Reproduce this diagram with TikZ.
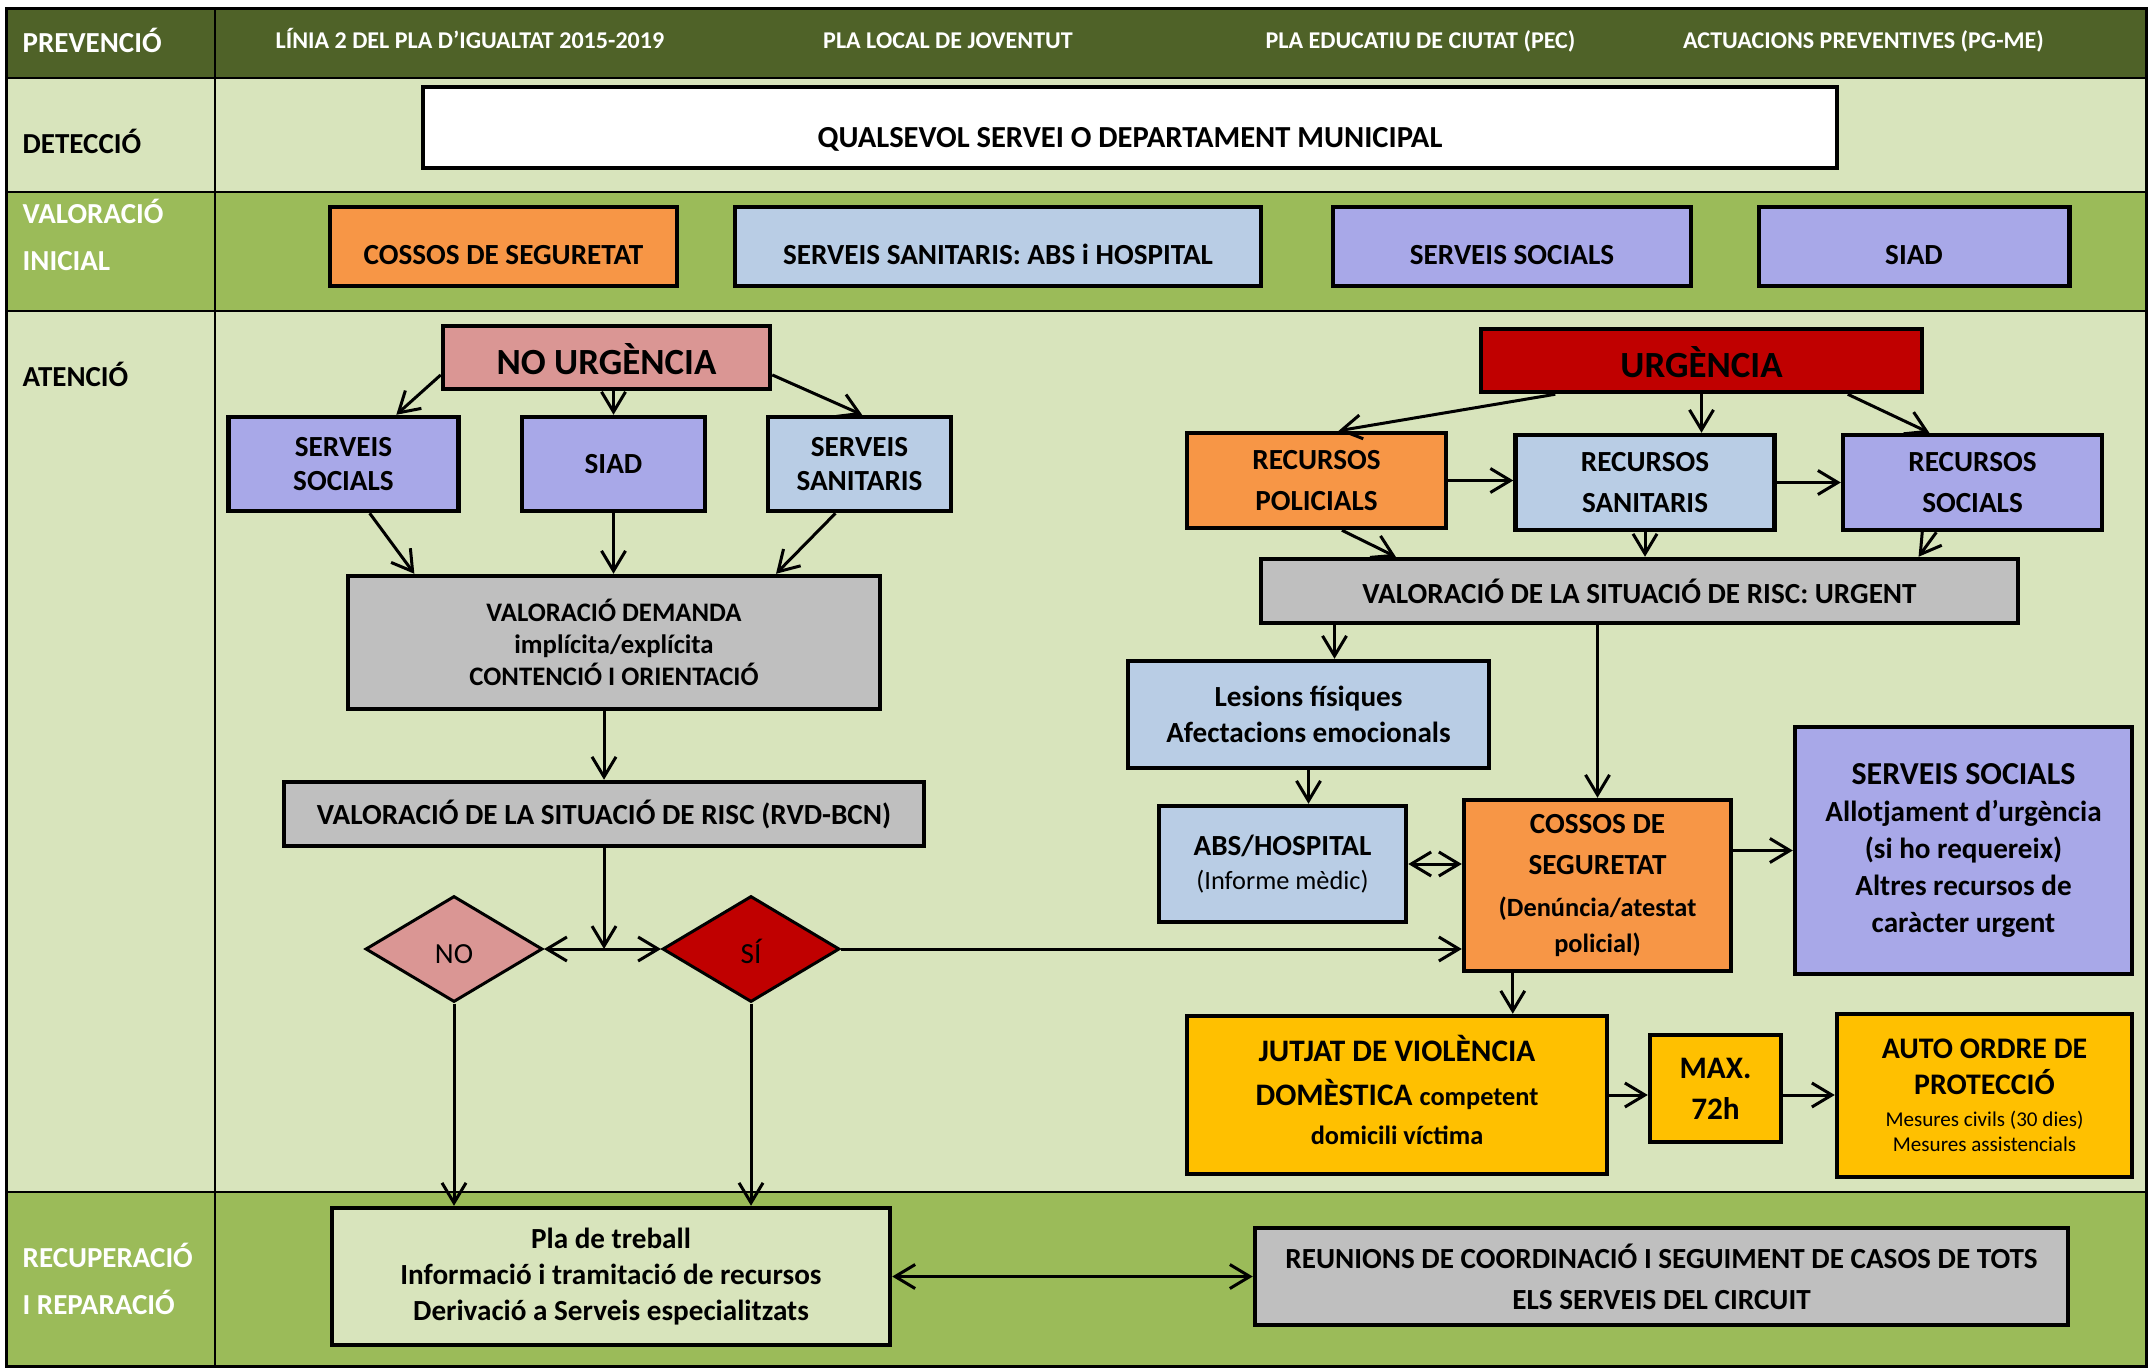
\documentclass[tikz,border=0pt]{standalone}
\usepackage{fontspec}
\setmainfont{Carlito}
\usetikzlibrary{positioning, shapes.geometric, arrows.meta}

\definecolor{hdrgreen}{RGB}{79,98,40}
\definecolor{palegreen}{RGB}{216,228,188}
\definecolor{midgreen}{RGB}{155,187,89}
\definecolor{orangebox}{RGB}{247,150,70}
\definecolor{bluebox}{RGB}{185,205,229}
\definecolor{violetbox}{RGB}{168,168,232}
\definecolor{pinkbox}{RGB}{218,150,148}
\definecolor{redbox}{RGB}{192,0,0}
\definecolor{greybox}{RGB}{191,191,191}
\definecolor{yellowbox}{RGB}{255,192,0}

\tikzset{
  lanetext/.style={inner sep=0pt, anchor=base west, font=\bfseries\fontsize{8.25}{13.3}\selectfont},
  headtext/.style={inner sep=0pt, anchor=base, text=white, font=\bfseries\fontsize{6.85}{8}\selectfont},
  boxsize/.style 2 args={minimum width=#1mm, minimum height=#2mm},
  lowtext/.style={text height=#1, text depth=0pt},
  box/.style={draw, line width=0.45mm, inner sep=0.5mm, align=center, font=\bfseries\fontsize{8.3}{10}\selectfont},
  decision/.style={diamond, draw, line width=0.3mm, inner sep=0pt, minimum width=17.7mm, minimum height=10.6mm, lowtext=2.9mm, font=\fontsize{8.3}{10}\selectfont},
  arr/.style={-{Straight Barb[length=2mm,width=2.4mm]}, line width=0.3mm},
  biarr/.style={{Straight Barb[length=2mm,width=2.4mm]}-{Straight Barb[length=2mm,width=2.4mm]}, line width=0.3mm}
}

\begin{document}
\begin{tikzpicture}[x=1mm, y=-1mm]
\useasboundingbox (0,0) rectangle (214.9,136.9);

% lanes
\fill[hdrgreen]  (0.6,0.9)   rectangle (214.6,7.8);
\fill[palegreen] (0.6,7.8)   rectangle (214.6,19.2);
\fill[midgreen]  (0.6,19.2)  rectangle (214.6,31.1);
\fill[palegreen] (0.6,31.1)  rectangle (214.6,119.2);
\fill[midgreen]  (0.6,119.2) rectangle (214.6,136.6);
\foreach \y in {7.8,19.2,31.1,119.2}
  \draw[line width=0.25mm] (0.6,\y) -- (214.6,\y);
\draw[line width=0.25mm] (21.5,0.9) -- (21.5,136.6);
\draw[line width=0.3mm] (0.6,0.9) rectangle (214.6,136.6);

\node[lanetext, text=white] (prev) at (2.2,5.23) {PREVENCIÓ};
\node[lanetext] (det) at (2.2,15.4) {DETECCIÓ};
\node[lanetext, text=white, anchor=west, align=left] (valini) at (2.2,23.5) {VALORACIÓ\\INICIAL};
\node[lanetext] (aten) at (2.2,38.6) {ATENCIÓ};
\node[lanetext, text=white, anchor=west, align=left] (recup) at (2.2,127.9) {RECUPERACIÓ\\I REPARACIÓ};

\node[headtext] (linia)  at (47.0,4.83)   {LÍNIA 2 DEL PLA D’IGUALTAT 2015-2019};
\node[headtext] (joves)  at (94.8,4.83)   {PLA LOCAL DE JOVENTUT};
\node[headtext] (pec)    at (142.05,4.83) {PLA EDUCATIU DE CIUTAT (PEC)};
\node[headtext] (pgme)   at (186.35,4.83) {ACTUACIONS PREVENTIVES (PG-ME)};

\node[box, fill=white, boxsize={141.4}{8.1}, lowtext=4.1mm, font=\bfseries\fontsize{8.7}{10}\selectfont] (qual) at (113.0,12.75) {QUALSEVOL SERVEI O DEPARTAMENT MUNICIPAL};

\begin{scope}[every node/.style={box, lowtext=3.5mm}]
\node[fill=orangebox, boxsize={34.7}{7.9}]  (cosini)  at (50.35,24.65) {COSSOS DE SEGURETAT};
\node[fill=bluebox,   boxsize={52.6}{7.9}]  (sanini)  at (99.8,24.65)  {SERVEIS SANITARIS: ABS i HOSPITAL};
\node[fill=violetbox, boxsize={35.8}{7.9}]  (socini)  at (151.2,24.65) {SERVEIS SOCIALS};
\node[fill=violetbox, boxsize={31.05}{7.9}] (siadini) at (191.4,24.65) {SIAD};
\end{scope}

% no urgencia
\node[box, fill=pinkbox, boxsize={32.7}{6.3}, lowtext=3.3mm, font=\bfseries\fontsize{10.5}{12}\selectfont] (nourg) at (60.65,35.75) {NO URGÈNCIA};
\node[box, fill=violetbox, boxsize={23.0}{9.4}, font=\bfseries\fontsize{8.3}{9.7}\selectfont] (ssoc) at (34.35,46.4) {SERVEIS\\SOCIALS};
\node[box, fill=violetbox, boxsize={18.3}{9.4}] (siad) at (61.35,46.4) {SIAD};
\node[box, fill=bluebox, boxsize={18.3}{9.4}, font=\bfseries\fontsize{8.3}{9.7}\selectfont] (ssan) at (85.95,46.4) {SERVEIS\\SANITARIS};
\node[box, fill=greybox, boxsize={53.2}{13.3}, font=\bfseries\fontsize{7.6}{9.1}\selectfont] (valdem) at (61.4,64.25) {VALORACIÓ DEMANDA\\implícita/explícita\\CONTENCIÓ I ORIENTACIÓ};
\node[box, fill=greybox, boxsize={64.0}{6.4}] (rvd) at (60.4,81.4) {VALORACIÓ DE LA SITUACIÓ DE RISC (RVD-BCN)};
\node[decision, fill=pinkbox] (no) at (45.4,94.9) {NO};
\node[decision, fill=redbox]  (si) at (75.1,94.9) {SÍ};
\node[box, fill=palegreen, boxsize={55.8}{13.7}, font=\bfseries\fontsize{8.3}{10.2}\selectfont] (pla) at (61.1,127.65) {Pla de treball\\Informació i tramitació de recursos\\Derivació a Serveis especialitzats};

% urgencia
\node[box, fill=redbox, boxsize={44.1}{6.3}, lowtext=3.4mm, font=\bfseries\fontsize{10.5}{12}\selectfont] (urg) at (170.15,36.05) {URGÈNCIA};
\begin{scope}[every node/.style={box, boxsize={25.9}{9.5}, font=\bfseries\fontsize{8.3}{11.7}\selectfont}]
\node[fill=orangebox] (rpol) at (131.65,48.05) {RECURSOS\\POLICIALS};
\node[fill=bluebox]   (rsan) at (164.5,48.25)  {RECURSOS\\SANITARIS};
\node[fill=violetbox] (rsoc) at (197.25,48.25) {RECURSOS\\SOCIALS};
\end{scope}
\node[box, fill=greybox, boxsize={75.7}{6.4}] (valurg) at (163.95,59.1) {VALORACIÓ DE LA SITUACIÓ DE RISC: URGENT};
\node[box, fill=bluebox, boxsize={36.1}{10.7}, font=\bfseries\fontsize{8.3}{10.2}\selectfont] (lesions) at (130.85,71.45) {Lesions físiques\\Afectacions emocionals};
\node[box, fill=bluebox, boxsize={24.7}{11.6}, font=\bfseries\fontsize{8.3}{9.7}\selectfont] (abs) at (128.25,86.4) {ABS/HOSPITAL\\{\mdseries\fontsize{7.5}{9}\selectfont (Informe mèdic)}};
\node[box, fill=orangebox, boxsize={26.7}{17.1}, font=\bfseries\fontsize{8.3}{11.8}\selectfont] (cossos) at (159.75,88.55) {COSSOS DE\\SEGURETAT\\{\fontsize{7.5}{9}\selectfont (Denúncia/atestat}\\[-0.5mm]{\fontsize{7.5}{9}\selectfont policial)}};
\node[box, fill=violetbox, boxsize={33.7}{24.7}, font=\bfseries\fontsize{8.3}{10.5}\selectfont] (ssurg) at (196.35,85.05) {{\fontsize{9.1}{10}\selectfont SERVEIS SOCIALS}\\Allotjament d’urgència\\(si ho requereix)\\Altres recursos de\\caràcter urgent};
\node[box, fill=yellowbox, boxsize={42.0}{15.8}, text depth=1mm, font=\bfseries\fontsize{8.9}{12.5}\selectfont] (jutjat) at (139.7,109.5) {JUTJAT DE VIOLÈNCIA\\DOMÈSTICA {\fontsize{7.5}{9}\selectfont competent}\\[-0.5mm]{\fontsize{7.5}{9}\selectfont domicili víctima}};
\node[box, fill=yellowbox, boxsize={13.1}{10.7}, font=\bfseries\fontsize{8.9}{11.7}\selectfont] (max) at (171.55,108.85) {MAX.\\72h};
\node[box, fill=yellowbox, boxsize={29.5}{16.3}, font=\bfseries\fontsize{8.5}{10.2}\selectfont] (auto) at (198.45,109.55) {AUTO ORDRE DE\\PROTECCIÓ\\[-0.4mm]{\mdseries\fontsize{6}{7}\selectfont Mesures civils (30 dies)}\\[-1.1mm]{\mdseries\fontsize{6}{7}\selectfont Mesures assistencials}};
\node[box, fill=greybox, boxsize={81.3}{9.7}, font=\bfseries\fontsize{8.3}{11.6}\selectfont] (reun) at (166.15,127.65) {REUNIONS DE COORDINACIÓ I SEGUIMENT DE CASOS DE TOTS\\ELS SERVEIS DEL CIRCUIT};

\begin{scope}[every path/.style={arr}]
\draw (nourg.186) -- (ssoc.43);
\draw (siad.north |- nourg.south) -- (siad.north);
\draw (nourg.354) -- (ssan.87);
\draw (ssoc.298) -- (valdem.161);
\draw (siad.south) -- (siad.south |- valdem.north);
\draw (ssan.244) -- (valdem.23);
\draw (rvd.north |- valdem.south) -- (rvd.north);
\draw (rvd.south) -- (rvd.south |- no.east);
\draw (si.east) -- (si.east -| cossos.west);
\draw (no.south) -- (no.south |- pla.north);
\draw (si.south) -- (si.south |- pla.north);

\draw (urg.193) -- (rpol.66);
\draw (urg.south) -- (urg.south |- rsan.north);
\draw (urg.347) -- (rsoc.131);
\draw (rpol.east) -- (rpol.east -| rsan.west);
\draw (rsan.east) -- (rsoc.west);
\draw (rpol.297) -- (valurg.172);
\draw (rsan.south) -- (rsan.south |- valurg.north);
\draw (rsoc.234) -- (valurg.7);
\draw (valurg.south -| lesions.65) -- (lesions.65);
\draw (valurg.south -| cossos.north) -- (cossos.north);
\draw (lesions.south) -- (lesions.south |- abs.north);
\draw (ssurg.west -| cossos.east) -- (ssurg.west);
\draw (cossos.226) -- (cossos.226 |- jutjat.north);
\draw (jutjat.east) -- (jutjat.east -| max.west);
\draw (jutjat.east -| max.east) -- (jutjat.east -| auto.west);

\draw[biarr] (no.east) -- (si.west);
\draw[biarr] (abs.east) -- (abs.east -| cossos.west);
\draw[biarr] (pla.east) -- (reun.west);
\end{scope}

\end{tikzpicture}
\end{document}
